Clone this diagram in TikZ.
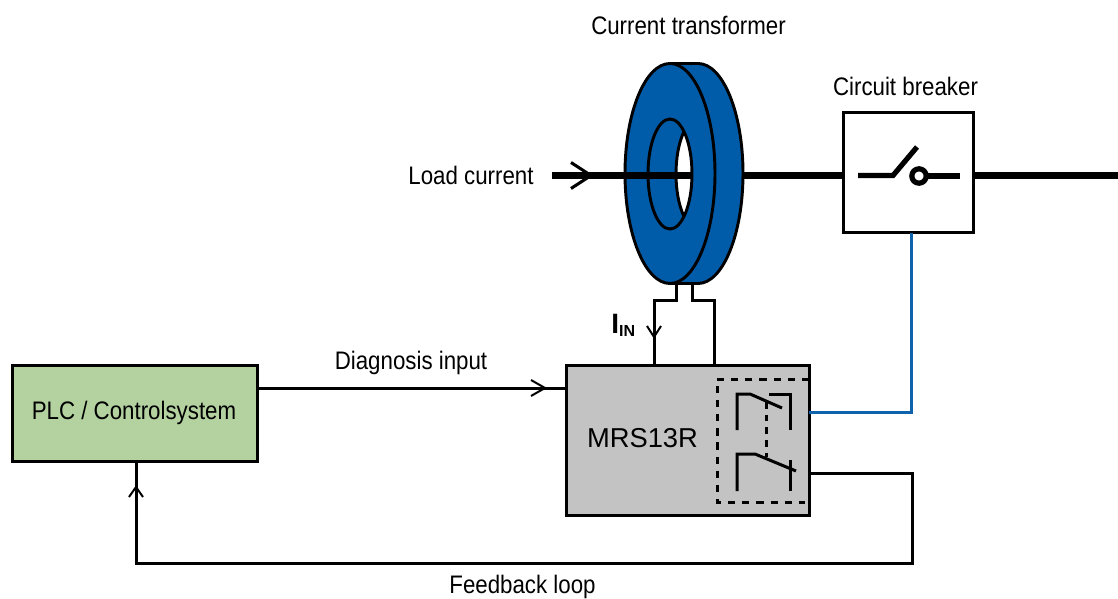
\documentclass[tikz,border=0pt]{standalone}
\usepackage{fontspec}
\setmainfont[FakeStretch=0.88]{Liberation Sans}
\newfontfamily\widefont{Liberation Sans}
\definecolor{coreblue}{HTML}{005CA9}
\definecolor{linkblue}{HTML}{0F62AC}
\definecolor{relaygray}{HTML}{C3C3C3}
\definecolor{plcgreen}{HTML}{B3D2A0}
\tikzset{
  label text/.style={inner sep=0pt,font=\fontsize{19}{21}\selectfont,text=black},
  boxed/.style={draw=black,line width=2.25pt,inner sep=0pt,outer sep=0pt},
  wire/.style={draw=black,line width=2.25pt,line join=miter},
  thin wire/.style={draw=black,line width=1.5pt},
  power/.style={draw=black,line width=4.6pt},
  outline/.style={draw=black,line width=2.2pt},
  dashbox/.style={draw=black,line width=2.25pt,dash pattern=on 5.4pt off 5.2pt},
  contact/.style={draw=black,line width=2.25pt,line join=miter},
}
\begin{document}
\begin{tikzpicture}[x=0.75pt,y=-0.75pt]
\useasboundingbox (0,0) rectangle (1118,599);
% toroidal core
\path[fill=coreblue,outline] (670,63.5) -- (698,63.5) arc[start angle=90,end angle=-90,x radius=33.75pt,y radius=82.5pt] -- (670,283.5) -- cycle;
\path[fill=coreblue,outline] (670,173.5) ellipse[x radius=33.75pt,y radius=82.5pt];
\begin{scope}
  \clip (670,174) ellipse[x radius=16.5pt,y radius=41.25pt];
  \path[fill=white,outline] (698,174) ellipse[x radius=16.5pt,y radius=41.25pt];
\end{scope}
\path[outline] (670,174) ellipse[x radius=16.5pt,y radius=41.25pt];
% named points
\coordinate (wirestart) at (552,175.5);
\coordinate (wireend) at (691,175.5);
\coordinate (coreright) at (744,175.5);
\coordinate (lineend) at (1118,175.5);
\coordinate (tapA) at (676,284);
\coordinate (tapB) at (692,284);
% boxes
\node[boxed,fill=white,minimum width=97.5pt,minimum height=90pt,anchor=north west] (breaker) at (843,113) {};
\node[boxed,fill=relaygray,minimum width=182.25pt,minimum height=112.5pt,anchor=north west] (relay) at (566,365) {};
\node[boxed,fill=plcgreen,minimum width=183.75pt,minimum height=72pt,anchor=north west] (plc) at (12,365) {};
% load wire
\draw[power] (wirestart) -- (wireend);
\draw[wire,line width=2.3pt] (571,162.5) -- (591,175.5) -- (571,188.5);
\draw[power] (coreright) -- (breaker.west |- coreright);
\draw[power] (breaker.east |- lineend) -- (lineend);
% breaker symbol
\draw[line width=3.9pt,line join=miter] (858,175.5) -- (893,175.5) -- (917,147);
\draw[line width=3.9pt] (919,176) circle[radius=5.4pt];
\draw[line width=3.9pt] (926,176) -- (960,176);
% core taps
\draw[wire] (tapA) -- (676,300) -- (654,300) -- (654,365);
\draw[wire] (tapB) -- (692,300) -- (714,300) -- (714,365);
\draw[thin wire] (647,326) -- (654,337) -- (661,326);
% relay content
\draw[dashbox] (809,379) -- (717,379) -- (717,502) -- (805,502);
\draw[contact] (737,430) -- (737,394) -- (750,394) -- (782,408);
\draw[contact] (769,394) -- (790,394) -- (790,430);
\draw[dashbox,dash pattern=on 5pt off 4.5pt] (766,402) -- (766,457);
\draw[contact] (737,491) -- (737,454) -- (755,454) -- (796,471);
\draw[contact] (790,460) -- (790,491);
% connections
\draw[draw=linkblue,line width=2.25pt] (relay.east |- 0,412) -- (911,412) -- (breaker.south -| 911,0);
\draw[wire] (relay.east |- 0,473) -- (912,473) -- (912,563) -- (136,563) -- (plc.south -| 136,0);
\draw[thin wire] (129,497) -- (136,487) -- (143,497);
\draw[wire] (plc.east |- 0,388) -- (relay.west |- 0,388);
\draw[thin wire] (531,380) -- (545,388) -- (531,396);
% labels
\node[label text] (tLoad) at (471,175) {Load current};
\node[label text] (tCT) at (688.5,25) {Current transformer};
\node[label text] (tCB) at (905.5,86) {Circuit breaker};
\node[label text] (tDiag) at (411,363) {Diagnosis input};
\node[label text] (tFb) at (522.5,587) {Feedback loop};
\node[label text] (tPlc) at (134,413) {PLC / Controlsystem};
\node[inner sep=0pt,font=\widefont\fontsize{20.5}{22}\selectfont] (tMrs) at (642.5,438) {MRS13R};
\node[inner sep=0pt,anchor=base west] (tIn) at (611,333) {\widefont\bfseries\fontsize{21}{22}\selectfont I\raisebox{-0.14em}{\fontsize{12}{13}\selectfont IN}};
\end{tikzpicture}
\end{document}
